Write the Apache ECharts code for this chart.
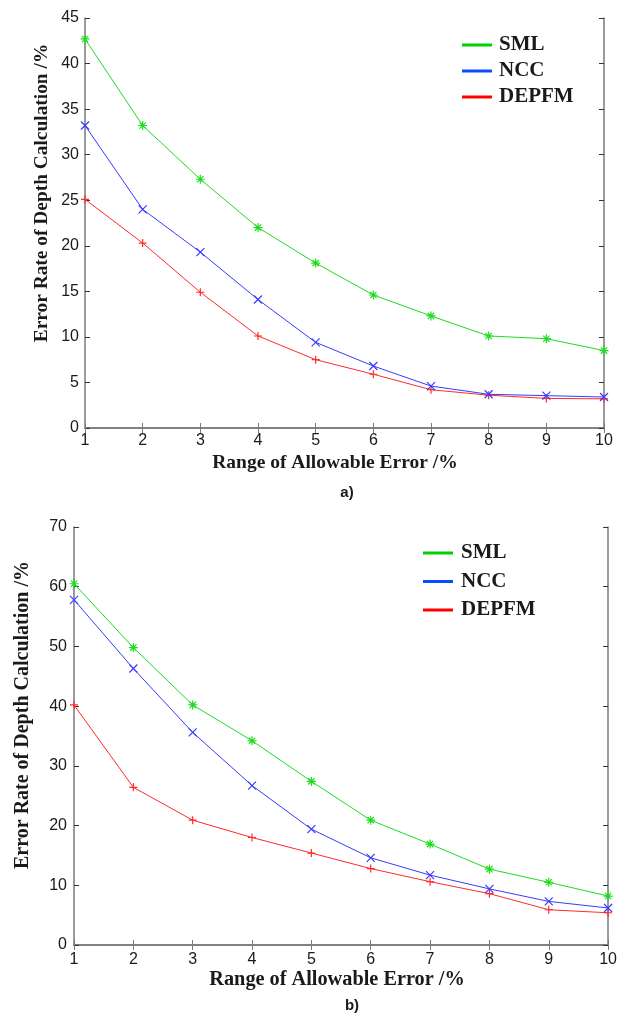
<!DOCTYPE html>
<html>
<head>
<meta charset="utf-8">
<script src="https://cdn.jsdelivr.net/npm/echarts@6/dist/echarts.min.js"></script>
<style>
  html, body { margin: 0; padding: 0; background: #fff; }
  #main { width: 620px; height: 1019px; }
</style>
</head>
<body>
<div id="main"></div>
<script>
// x values: range of allowable error (%)
var allowError = [1, 2, 3, 4, 5, 6, 7, 8, 9, 10];

// chart a)
var smlA   = [42.7, 33.2, 27.3, 22.0, 18.1, 14.6, 12.3, 10.1, 9.8, 8.5];
var nccA   = [33.2, 24.0, 19.3, 14.1, 9.4, 6.8, 4.6, 3.7, 3.55, 3.4];
var depfmA = [25.1, 20.3, 14.9, 10.1, 7.5, 5.9, 4.2, 3.6, 3.25, 3.2];

// chart b)
var smlB   = [60.5, 49.8, 40.2, 34.2, 27.4, 20.9, 16.9, 12.7, 10.5, 8.2];
var nccB   = [57.8, 46.3, 35.6, 26.7, 19.4, 14.6, 11.7, 9.4, 7.3, 6.2];
var depfmB = [40.2, 26.4, 20.9, 18.0, 15.4, 12.8, 10.6, 8.6, 5.9, 5.4];

var names = ['SML', 'NCC', 'DEPFM'];
var lineColors = ['#1fdc1f', '#3a3aff', '#ff2a2a'];
var legendColors = ['#00d000', '#0a4cff', '#ff0000'];
var symbols = [
    'path://M5,0L5,10M0,5L10,5M1.5,1.5L8.5,8.5M8.5,1.5L1.5,8.5',
    'path://M0,0L10,10M10,0L0,10',
    'path://M5,0L5,10M0,5L10,5'
];

function pairs(ys) {
    return allowError.map(function (x, i) { return [x, ys[i]]; });
}

function makeSeries(idx, ys, axisIdx) {
    return {
        name: names[idx],
        type: 'line',
        xAxisIndex: axisIdx,
        yAxisIndex: axisIdx,
        data: pairs(ys),
        symbol: symbols[idx],
        symbolSize: idx == 0 ? 9 : 8,
        lineStyle: { color: lineColors[idx], width: 1 },
        itemStyle: { color: lineColors[idx], borderColor: lineColors[idx], borderWidth: 1.2 },
        emphasis: { disabled: true },
        animation: false,
        z: 3 - idx
    };
}

var axisGray = '#7a7a7a';
var tickFont = { color: '#1a1a1a', fontSize: 16, fontFamily: 'Liberation Sans' };

function bottomX(grid, margin) {
    return {
        type: 'value', gridIndex: grid, min: 1, max: 10, interval: 1, position: 'bottom',
        axisLine: { lineStyle: { color: axisGray, width: 1.5 } },
        axisTick: { inside: true, length: 5, lineStyle: { color: axisGray } },
        axisLabel: Object.assign({ margin: margin }, tickFont),
        splitLine: { show: false }
    };
}
function topX(grid) {
    return {
        type: 'value', gridIndex: grid, min: 1, max: 10, interval: 1, position: 'top',
        axisLine: { lineStyle: { color: axisGray, width: 1.5 } },
        axisTick: { inside: true, length: 5, lineStyle: { color: axisGray } },
        axisLabel: { show: false },
        splitLine: { show: false }
    };
}
function leftY(grid, max, step, margin) {
    return {
        type: 'value', gridIndex: grid, min: 0, max: max, interval: step, position: 'left',
        axisLine: { show: true, lineStyle: { color: axisGray, width: 1.5 } },
        axisTick: { show: true, inside: true, length: 5, lineStyle: { color: '#333' } },
        axisLabel: Object.assign({ margin: margin }, tickFont),
        splitLine: { show: false }
    };
}
function rightY(grid, max, step) {
    return {
        type: 'value', gridIndex: grid, min: 0, max: max, interval: step, position: 'right',
        axisLine: { show: true, lineStyle: { color: axisGray, width: 1.5 } },
        axisTick: { show: true, inside: true, length: 5, lineStyle: { color: '#333' } },
        axisLabel: { show: false },
        splitLine: { show: false }
    };
}

function legendData() {
    return names.map(function (n, i) {
        return { name: n, icon: 'rect', itemStyle: { color: legendColors[i], borderWidth: 0 } };
    });
}

var titleFont = 'Liberation Serif';
function textG(txt, x, y, size, rot, family, weight) {
    return {
        type: 'text', x: x, y: y, rotation: rot || 0,
        style: {
            text: txt, fill: '#1a1a1a', fontSize: size, fontWeight: weight || 'bold',
            fontFamily: family || titleFont, textAlign: 'center', textVerticalAlign: 'middle'
        }
    };
}

var option = {
    backgroundColor: '#fff',
    animation: false,
    grid: [
        { left: 85, top: 18, width: 519, height: 410 },
        { left: 74, top: 527, width: 536, height: 418 }
    ],
    xAxis: [bottomX(0, 5), topX(0), bottomX(1, 7), topX(1)],
    yAxis: [leftY(0, 45, 5, 6), rightY(0, 45, 5), leftY(1, 70, 10, 7), rightY(1, 70, 10)],
    legend: [
        {
            orient: 'vertical', left: 462, top: 34.5, padding: 0, itemWidth: 30, itemHeight: 3, itemGap: 5,
            data: legendData(), selectedMode: false,
            textStyle: { fontFamily: titleFont, fontWeight: 'bold', fontSize: 21, lineHeight: 21, color: '#1a1a1a', padding: [0, 0, 0, 2] }
        },
        {
            orient: 'vertical', left: 423, top: 542.5, padding: 0, itemWidth: 30, itemHeight: 3, itemGap: 7.5,
            data: legendData(), selectedMode: false,
            textStyle: { fontFamily: titleFont, fontWeight: 'bold', fontSize: 21, lineHeight: 21, color: '#1a1a1a', padding: [0, 0, 0, 3] }
        }
    ],
    graphic: [
        textG('Error Rate of Depth Calculation /%', 42, 193, 19.4, Math.PI / 2),
        textG('Range of Allowable Error /%', 335, 463, 19.5),
        textG('a)', 347, 493, 15, 0, 'Liberation Sans'),
        textG('Error Rate of Depth Calculation /%', 23, 715, 20, Math.PI / 2),
        textG('Range of Allowable Error /%', 337, 980, 20.3),
        textG('b)', 352, 1006, 15, 0, 'Liberation Sans')
    ],
    series: [
        makeSeries(0, smlA, 0),
        makeSeries(1, nccA, 0),
        makeSeries(2, depfmA, 0),
        makeSeries(0, smlB, 2),
        makeSeries(1, nccB, 2),
        makeSeries(2, depfmB, 2)
    ]
};

var chart = echarts.init(document.getElementById('main'), null, { renderer: 'canvas' });
chart.setOption(option);
</script>
</body>
</html>
